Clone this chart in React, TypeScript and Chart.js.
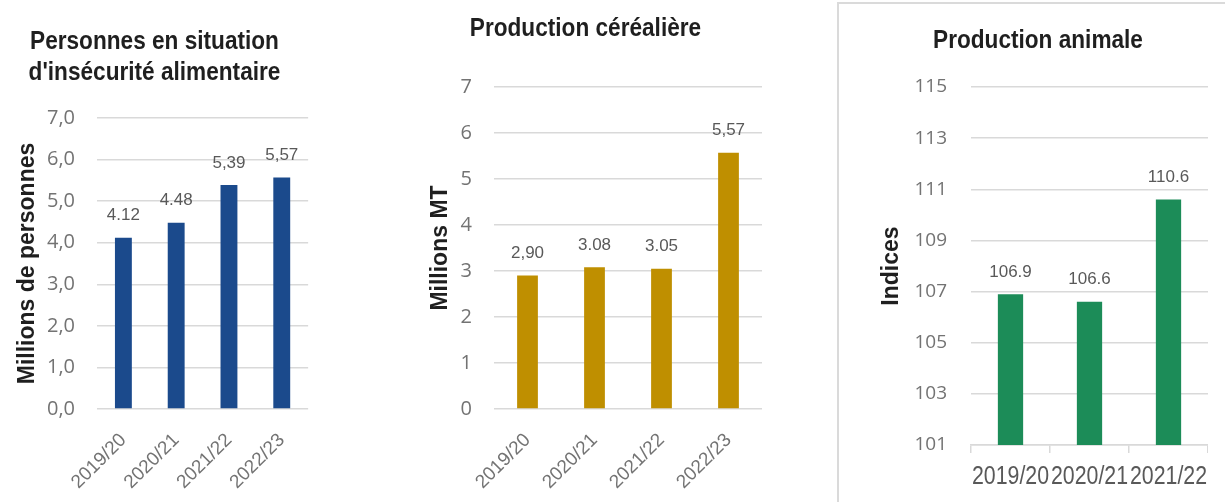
import React, { useEffect, useRef } from "react";
import { Chart, registerables } from "chart.js";

Chart.register(...registerables);

// ---------- Data ----------
const insecCategories = ["2019/20", "2020/21", "2021/22", "2022/23"];
const insecValues = [4.12, 4.48, 5.39, 5.57];
const insecValueLabels = ["4.12", "4.48", "5,39", "5,57"];
const insecTickLabels = ["0,0", "1,0", "2,0", "3,0", "4,0", "5,0", "6,0", "7,0"];
const insecTitle = ["Personnes en situation", "d'insécurité alimentaire"];
const insecAxisTitle = "Millions de personnes";

const cerealCategories = ["2019/20", "2020/21", "2021/22", "2022/23"];
const cerealValues = [2.9, 3.08, 3.05, 5.57];
const cerealValueLabels = ["2,90", "3.08", "3.05", "5,57"];
const cerealTickLabels = ["0", "1", "2", "3", "4", "5", "6", "7"];
const cerealTitle = ["Production céréalière"];
const cerealAxisTitle = "Millions MT";

const animalCategories = ["2019/20", "2020/21", "2021/22"];
const animalValues = [106.9, 106.6, 110.6];
const animalValueLabels = ["106.9", "106.6", "110.6"];
const animalTickLabels = ["101", "103", "105", "107", "109", "111", "113", "115"];
const animalTitle = ["Production animale"];
const animalAxisTitle = "Indices";

// ---------- Styles ----------
const TICK_FONT = "'Open Sans', 'Liberation Sans', Arial, sans-serif";
const LABEL_FONT = "'Liberation Sans', Arial, sans-serif";
const BOLD_FONT = "'Liberation Sans', Arial, sans-serif";
const GRID = "#D9D9D9";
const TICK_COLOR = "#737373";
const LABEL_COLOR = "#595959";
const TITLE_COLOR = "#1f1f1f";

type Spec = {
  left: number;
  width: number;
  height: number;
  categories: string[];
  values: number[];
  valueLabels: string[];
  tickLabels: string[];
  color: string;
  title: string[];
  titleX: number;
  titleBaselines: number[];
  yTitle: string;
  yTitlePad: number;
  yMin: number;
  yMax: number;
  yStep: number;
  yTickSize: number;
  yTickPad: number;
  yAxisWidth: number;
  xAxisHeight: number;
  xLabelY: number;
  topPad: number;
  rightPad: number;
  barPct: number;
  rotated: boolean;
};

function BarPanel({ spec }: { spec: Spec }) {
  const ref = useRef<HTMLCanvasElement | null>(null);
  useEffect(() => {
    const s = spec;
    const valueLabelPlugin = {
      id: "valueLabels",
      afterDatasetsDraw(chart: any) {
        const ctx = chart.ctx;
        const meta = chart.getDatasetMeta(0);
        ctx.save();
        ctx.font = `17px ${LABEL_FONT}`;
        ctx.fillStyle = LABEL_COLOR;
        ctx.textAlign = "center";
        ctx.textBaseline = "middle";
        meta.data.forEach((bar: any, i: number) => {
          ctx.fillText(s.valueLabels[i], bar.x, bar.y - 22);
        });
        ctx.restore();
      },
    };
    // Condensed text: chart title and (for the unrotated axis) category labels
    const condensedTextPlugin = {
      id: "condensedText",
      afterDraw(chart: any) {
        const ctx = chart.ctx;
        ctx.save();
        ctx.font = `bold 26px ${BOLD_FONT}`;
        ctx.fillStyle = TITLE_COLOR;
        ctx.textAlign = "center";
        ctx.textBaseline = "alphabetic";
        s.title.forEach((line, i) => {
          ctx.save();
          ctx.translate(s.titleX, s.titleBaselines[i]);
          ctx.scale(0.87, 1);
          ctx.fillText(line, 0, 0);
          ctx.restore();
        });
        if (!s.rotated) {
          const xs = chart.scales.x;
          ctx.font = `26px ${LABEL_FONT}`;
          ctx.fillStyle = LABEL_COLOR;
          ctx.textBaseline = "middle";
          s.categories.forEach((cat, i) => {
            ctx.save();
            ctx.translate(xs.getPixelForTick(i), s.xLabelY);
            ctx.scale(0.82, 1);
            ctx.fillText(cat, 0, 0);
            ctx.restore();
          });
        }
        ctx.restore();
      },
    };

    const xScale: any = s.rotated
      ? {
          grid: { display: false },
          border: { display: false },
          ticks: {
            font: { family: LABEL_FONT, size: 19 },
            color: TICK_COLOR,
            minRotation: 45,
            maxRotation: 45,
            autoSkip: false,
            padding: 12,
          },
          afterFit: (sc: any) => {
            sc.height = s.xAxisHeight;
          },
        }
      : {
          grid: {
            display: true,
            drawOnChartArea: false,
            drawTicks: true,
            tickLength: 8,
            color: GRID,
            lineWidth: 1.5,
          },
          border: { display: true, color: GRID, width: 1.5 },
          ticks: { display: false, autoSkip: false },
          afterFit: (sc: any) => {
            sc.height = s.xAxisHeight;
          },
        };

    const chart = new Chart(ref.current as HTMLCanvasElement, {
      type: "bar",
      data: {
        labels: s.categories,
        datasets: [
          {
            data: s.values,
            backgroundColor: s.color,
            borderWidth: 0,
            barPercentage: s.barPct,
            categoryPercentage: 1,
          },
        ],
      },
      options: {
        responsive: false,
        maintainAspectRatio: false,
        animation: false,
        layout: { padding: { left: 0, right: s.rightPad, top: s.topPad, bottom: 0 } },
        plugins: {
          legend: { display: false },
          tooltip: { enabled: false },
          title: { display: false },
        },
        scales: {
          x: xScale,
          y: {
            min: s.yMin,
            max: s.yMax,
            ticks: {
              stepSize: s.yStep,
              font: { family: TICK_FONT, size: s.yTickSize },
              color: TICK_COLOR,
              padding: s.yTickPad,
              callback: (_v: any, i: number) => s.tickLabels[i],
            },
            grid: { color: GRID, lineWidth: 1.5, drawTicks: false },
            border: { display: false },
            title: {
              display: true,
              text: s.yTitle,
              color: TITLE_COLOR,
              font: { family: BOLD_FONT, size: 23, weight: "bold" },
              padding: { top: s.yTitlePad, bottom: 0 },
            },
            afterFit: (sc: any) => {
              sc.width = s.yAxisWidth;
            },
          },
        },
      } as any,
      plugins: [valueLabelPlugin, condensedTextPlugin],
    });
    return () => chart.destroy();
  }, [spec]);

  return (
    <canvas
      ref={ref}
      width={spec.width}
      height={spec.height}
      style={{
        position: "absolute",
        left: spec.left,
        top: 0,
        width: spec.width,
        height: spec.height,
      }}
    />
  );
}

const insecSpec: Spec = {
  left: 0,
  width: 310,
  height: 502,
  categories: insecCategories,
  values: insecValues,
  valueLabels: insecValueLabels,
  tickLabels: insecTickLabels,
  color: "#1B4A8C",
  title: insecTitle,
  titleX: 154.5,
  titleBaselines: [48.5, 79.5],
  yTitle: insecAxisTitle,
  yTitlePad: 14,
  yMin: 0,
  yMax: 7,
  yStep: 1,
  yTickSize: 20,
  yTickPad: 22,
  yAxisWidth: 97,
  xAxisHeight: 93,
  xLabelY: 0,
  topPad: 118,
  rightPad: 1,
  barPct: 0.32,
  rotated: true,
};

const cerealSpec: Spec = {
  left: 410,
  width: 352,
  height: 502,
  categories: cerealCategories,
  values: cerealValues,
  valueLabels: cerealValueLabels,
  tickLabels: cerealTickLabels,
  color: "#BF8F00",
  title: cerealTitle,
  titleX: 175.5,
  titleBaselines: [35.5],
  yTitle: cerealAxisTitle,
  yTitlePad: 17,
  yMin: 0,
  yMax: 7,
  yStep: 1,
  yTickSize: 20,
  yTickPad: 22,
  yAxisWidth: 84,
  xAxisHeight: 93,
  xLabelY: 0,
  topPad: 87,
  rightPad: 0,
  barPct: 0.31,
  rotated: true,
};

const animalSpec: Spec = {
  left: 868,
  width: 340,
  height: 502,
  categories: animalCategories,
  values: animalValues,
  valueLabels: animalValueLabels,
  tickLabels: animalTickLabels,
  color: "#1C8C58",
  title: animalTitle,
  titleX: 170,
  titleBaselines: [48],
  yTitle: animalAxisTitle,
  yTitlePad: 10,
  yMin: 101,
  yMax: 115,
  yStep: 2,
  yTickSize: 19,
  yTickPad: 24,
  yAxisWidth: 103,
  xAxisHeight: 57,
  xLabelY: 477,
  topPad: 87,
  rightPad: 0,
  barPct: 0.32,
  rotated: false,
};

export default function App() {
  return (
    <div
      style={{
        position: "fixed",
        left: 0,
        top: 0,
        width: 1225,
        height: 502,
        overflow: "hidden",
        background: "#ffffff",
      }}
    >
      <div
        style={{
          position: "absolute",
          left: 837,
          top: 2,
          width: 420,
          height: 540,
          borderLeft: "2px solid #DADADA",
          borderTop: "2px solid #DADADA",
          boxSizing: "border-box",
        }}
      />
      <BarPanel spec={insecSpec} />
      <BarPanel spec={cerealSpec} />
      <BarPanel spec={animalSpec} />
    </div>
  );
}
